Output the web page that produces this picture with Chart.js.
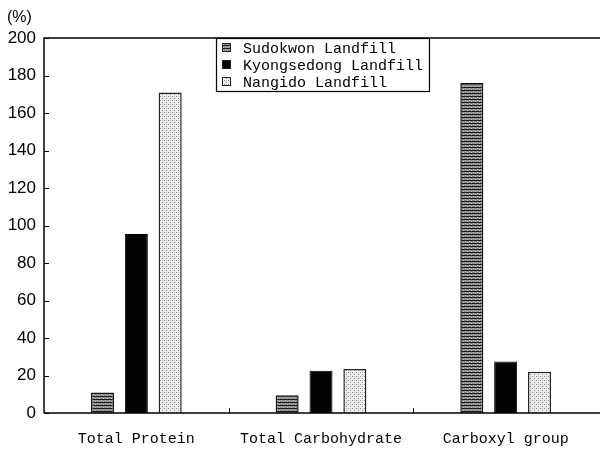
<!DOCTYPE html>
<html>
<head>
<meta charset="utf-8">
<script src="https://cdn.jsdelivr.net/npm/chart.js"></script>
<style>
  html,body{margin:0;padding:0;background:#fff}
  #wrap{width:600px;height:453px;position:relative}
</style>
</head>
<body>
<div id="wrap"><canvas id="chart" width="600" height="453"></canvas></div>
<script>
/* ---------- data */
const CATEGORIES = ['Total Protein','Total Carbohydrate','Carboxyl group'];
const SUDOKWON   = [11, 9.5, 176];
const KYONGSEDONG= [95.5, 22.5, 27.5];
const NANGIDO    = [171, 23.5, 22];
const Y_TICKS    = [0,20,40,60,80,100,120,140,160,180,200];

/* ---------- little fill patterns (hatched / dotted) */
function hatchPattern() {
  const c = document.createElement('canvas'); c.width = 4; c.height = 3;
  const g = c.getContext('2d');
  g.fillStyle = '#8a8a8a'; g.fillRect(0,0,4,3);
  g.fillStyle = '#1a1a1a'; g.fillRect(0,0,4,1);
  g.fillStyle = '#c4c4c4'; g.fillRect(1,1,1,1); g.fillRect(3,2,1,1);
  return g.createPattern(c,'repeat');
}
function dotPattern() {
  const c = document.createElement('canvas'); c.width = 4; c.height = 4;
  const g = c.getContext('2d');
  g.fillStyle = '#eeeeee'; g.fillRect(0,0,4,4);
  g.fillStyle = '#888';    g.fillRect(0,0,1,1); g.fillRect(2,2,1,1);
  g.fillStyle = '#c0c0c0'; g.fillRect(2,0,1,1);
  return g.createPattern(c,'repeat');
}

const MONO = '"Liberation Mono", "DejaVu Sans Mono", monospace';
const SANS = '"Liberation Sans", Arial, sans-serif';

/* ---------- frame, inward ticks, "(%)" and boxed legend */
const decor = {
  id:'decor',
  afterDatasetsDraw(chart){
    const {ctx, chartArea:a, scales:{x,y}} = chart;
    ctx.save();
    ctx.strokeStyle = '#000'; ctx.lineWidth = 1.5;
    ctx.beginPath();
    ctx.moveTo(a.left, a.bottom); ctx.lineTo(a.left, a.top); ctx.lineTo(600, a.top);
    ctx.moveTo(a.left, a.bottom); ctx.lineTo(600, a.bottom);
    ctx.stroke();
    // inward ticks
    ctx.lineWidth = 1;
    ctx.beginPath();
    Y_TICKS.forEach(v=>{ const py = Math.round(y.getPixelForValue(v))+0.5;
      ctx.moveTo(a.left, py); ctx.lineTo(a.left+5, py); });
    const step = (a.right - a.left)/CATEGORIES.length;
    for (let i=1;i<CATEGORIES.length;i++){ const px = Math.round(a.left+step*i)+0.5;
      ctx.moveTo(px, a.bottom); ctx.lineTo(px, a.bottom-5); }
    ctx.stroke();
    // unit label
    ctx.fillStyle = '#000';
    ctx.font = '16px ' + SANS;
    ctx.textBaseline = 'middle';
    ctx.fillText('(%)', 7, 18);
    // legend
    const lx = 216, ly = a.top, lw = 213, lh = 53;
    ctx.fillStyle = '#fff'; ctx.fillRect(lx, ly, lw, lh);
    ctx.lineWidth = 1.2; ctx.strokeRect(lx+0.5, ly+0.5, lw, lh);
    ctx.font = '15px ' + MONO;
    chart.data.datasets.forEach((ds,i)=>{
      const cy = ly + 10 + i*17;
      ctx.fillStyle = ds.backgroundColor; ctx.fillRect(lx+6, cy-5, 9, 9);
      ctx.strokeStyle = '#222'; ctx.lineWidth = 1; ctx.strokeRect(lx+6.5, cy-4.5, 8, 8);
      ctx.fillStyle = '#000'; ctx.fillText(ds.label, lx+27, cy+1);
    });
    ctx.restore();
  }
};

const ctx = document.getElementById('chart').getContext('2d');
new Chart(ctx,{
  type:'bar',
  data:{
    labels:CATEGORIES,
    datasets:[
      {label:'Sudokwon Landfill',    data:SUDOKWON,    backgroundColor:hatchPattern(), borderColor:'#111', borderWidth:1.5},
      {label:'Kyongsedong Landfill', data:KYONGSEDONG, backgroundColor:'#030303',      borderColor:'#000', borderWidth:1},
      {label:'Nangido Landfill',     data:NANGIDO,     backgroundColor:dotPattern(),   borderColor:'#222', borderWidth:1.5}
    ]
  },
  options:{
    responsive:false, animation:false,
    layout:{padding:{top:38, right:2, left:0, bottom:0}},
    plugins:{legend:{display:false}, tooltip:{enabled:false}},
    datasets:{bar:{barPercentage:0.68, categoryPercentage:0.55}},
    scales:{
      x:{
        grid:{display:false, drawTicks:false}, border:{display:false},
        ticks:{color:'#000', font:{family:MONO, size:15}, padding:17},
        afterFit(s){ s.height = 40; }
      },
      y:{
        min:0, max:200,
        afterBuildTicks(s){ s.ticks = Y_TICKS.map(v=>({value:v})); },
        grid:{display:false, drawTicks:false}, border:{display:false},
        ticks:{color:'#000', font:{family:SANS, size:17}, padding:8},
        afterFit(s){ s.width = 44; }
      }
    }
  },
  plugins:[decor]
});
</script>
</body>
</html>
